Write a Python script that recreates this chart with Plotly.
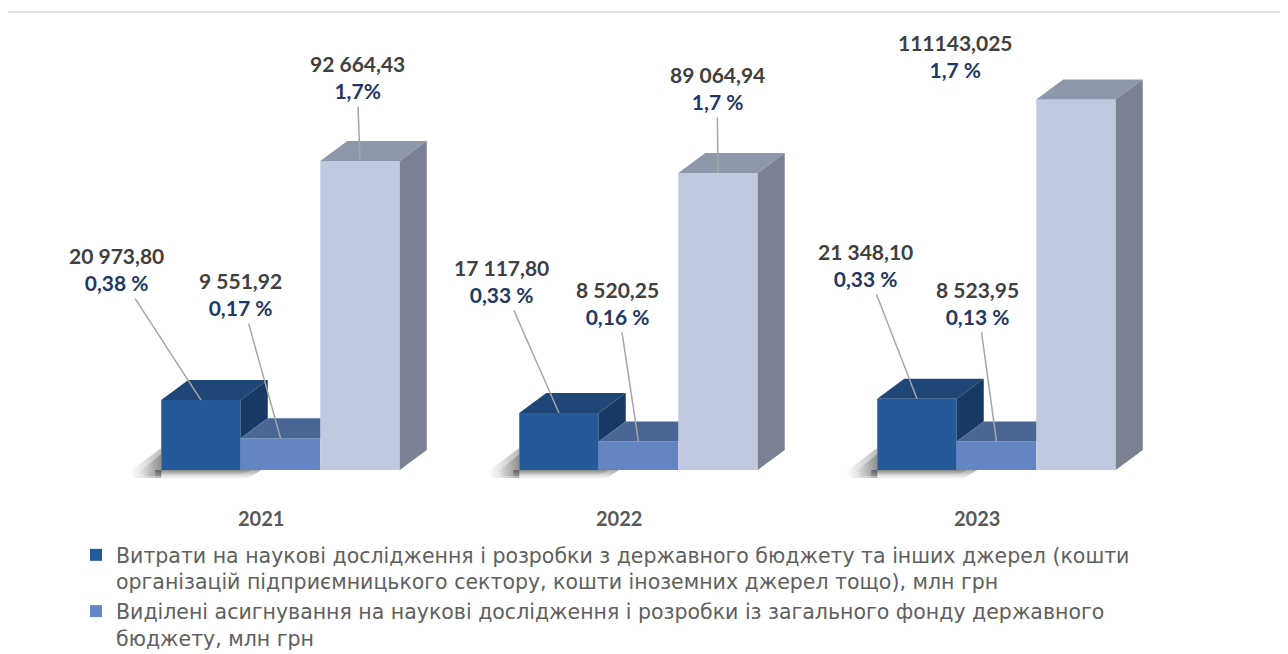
import plotly.graph_objects as go

# ---------------- data ----------------
years = ["2021", "2022", "2023"]
rd_total = [20973.80, 17117.80, 21348.10]          # dark blue
rd_budget = [9551.92, 8520.25, 8523.95]            # medium blue
third = [92664.43, 89064.94, 111143.025]           # light lavender
rd_total_lbl = ["20 973,80", "17 117,80", "21 348,10"]
rd_budget_lbl = ["9 551,92", "8 520,25", "8 523,95"]
third_lbl = ["92 664,43", "89 064,94", "111143,025"]
rd_total_pct = ["0,38 %", "0,33 %", "0,33 %"]
rd_budget_pct = ["0,17 %", "0,16 %", "0,13 %"]
third_pct = ["1,7%", "1,7 %", "1,7 %"]

name_total = ("Витрати на наукові дослідження і розробки з державного бюджету та інших джерел (кошти"
              "<br>організацій підприємницького сектору, кошти іноземних джерел тощо), млн грн")
name_budget = ("Виділені асигнування на наукові дослідження і розробки із загального фонду державного"
               "<br>бюджету, млн грн")
name_third = "1,7 % ВВП"

# ---------------- geometry (page pixels) ----------------
FIG_W, FIG_H = 1288, 654
BODY = 8                                   # default page margin around the figure
PL, PR, PT, PB = 40, 1248, 20, 490         # plot area in page px
PX_PER_GROUP = 358.0
Y_PER_PX = 300.0
BASE_PX = 470.0
GROUP0_PX = 280.5

plot_w = PR - PL
plot_h = PB - PT
x0r = -(GROUP0_PX - PL) / PX_PER_GROUP
x_range = [x0r, x0r + plot_w / PX_PER_GROUP]
y_min = -(PB - BASE_PX) * Y_PER_PX
y_range = [y_min, y_min + plot_h * Y_PER_PX]


def paper_x(px):
    return (px - PL) / plot_w


def paper_y(py):
    return (PB - py) / plot_h


BW = 79.5 / PX_PER_GROUP
DX = 27.0 / PX_PER_GROUP
DY = 20.0 * Y_PER_PX

C_DARK = ["#245A99", "#1E4777", "#173A64"]     # front, top, side
C_MID = ["#6385C4", "#4A6694", "#3E5A86"]
C_LIGHT = ["#BFC9E0", "#8E98AB", "#7A8193"]
VAL_COLOR = "#404040"
PCT_COLOR = "#1F3864"

groups = list(range(len(years)))
fig = go.Figure()


def poly_xy(polys):
    xs, ys = [], []
    for p in polys:
        for (a, b) in p:
            xs.append(a)
            ys.append(b)
        xs.append(p[0][0]); ys.append(p[0][1])
        xs.append(None); ys.append(None)
    return xs, ys


def poly_trace(polys, color):
    xs, ys = poly_xy(polys)
    return go.Scatter(x=xs, y=ys, mode="lines", fill="toself", fillcolor=color,
                      line=dict(width=0, color=color),
                      hoverinfo="skip", showlegend=False)


# ---- front faces ----
fig.add_trace(go.Bar(x=[g - BW for g in groups], y=rd_total, width=BW, name=name_total,
                     marker=dict(color=C_DARK[0], line=dict(width=0)), hoverinfo="skip"))
fig.add_trace(go.Bar(x=[g for g in groups], y=rd_budget, width=BW, name=name_budget,
                     marker=dict(color=C_MID[0], line=dict(width=0)), hoverinfo="skip"))
fig.add_trace(go.Bar(x=[g + BW for g in groups], y=third, width=BW, name=name_third,
                     marker=dict(color=C_LIGHT[0], line=dict(width=0)), hoverinfo="skip",
                     showlegend=False))


# ---- soft floor shadow to the lower left of each group ----
def sx(g, dpx):
    return g - 1.5 * BW + dpx / PX_PER_GROUP


def sy(dpx):
    return -dpx * Y_PER_PX


def grad_poly(pts, kind, alpha):
    xs, ys = poly_xy([pts])
    return go.Scatter(x=xs, y=ys, mode="lines", fill="toself", line=dict(width=0),
                      fillgradient=dict(type=kind,
                                        colorscale=[[0, "rgba(80,80,80,0)"],
                                                    [1, f"rgba(60,60,60,{alpha})"]]),
                      hoverinfo="skip", showlegend=False)


for g in groups:
    fig.add_trace(grad_poly([(sx(g, 0), sy(-22)), (sx(g, -32), sy(2)), (sx(g, -26), sy(8)),
                             (sx(g, 0), sy(8))], "horizontal", 0.35))
    fig.add_trace(grad_poly([(sx(g, 0), sy(-16)), (sx(g, -22), sy(2)), (sx(g, -16), sy(6)),
                             (sx(g, 0), sy(6))], "horizontal", 0.35))
    fig.add_trace(grad_poly([(sx(g, -6), sy(0)), (sx(g, 100), sy(0)), (sx(g, 86), sy(9)),
                             (sx(g, -6), sy(9))], "vertical", 0.45))
    fig.add_trace(grad_poly([(sx(g, -6), sy(0)), (sx(g, 90), sy(0)), (sx(g, 80), sy(5)),
                             (sx(g, -6), sy(5))], "vertical", 0.3))

# ---- 3D top and side faces ----
dark_top, dark_side, mid_top, light_top, light_side = [], [], [], [], []
for g, vd, vm, vl in zip(groups, rd_total, rd_budget, third):
    xa, xb = g - 1.5 * BW, g - 0.5 * BW
    dark_top.append([(xa, vd), (xb, vd), (xb + DX, vd + DY), (xa + DX, vd + DY)])
    dark_side.append([(xb, vm), (xb, vd), (xb + DX, vd + DY), (xb + DX, vm + DY)])
    xc = g + 0.5 * BW
    mid_top.append([(xb, vm), (xc, vm), (xc, vm + DY), (xb + DX, vm + DY)])
    xd = g + 1.5 * BW
    light_top.append([(xc, vl), (xd, vl), (xd + DX, vl + DY), (xc + DX, vl + DY)])
    light_side.append([(xd, 0), (xd, vl), (xd + DX, vl + DY), (xd + DX, DY)])

fig.add_trace(poly_trace(dark_top, C_DARK[1]))
fig.add_trace(poly_trace(dark_side, C_DARK[2]))
fig.add_trace(poly_trace(mid_top, C_MID[1]))
fig.add_trace(poly_trace(light_top, C_LIGHT[1]))
fig.add_trace(poly_trace(light_side, C_LIGHT[2]))

# ---- data labels with leader lines (label offsets in px) ----
off_total = [(-85, -131), (-58, -132), (-52, -134)]
off_budget = [(-40, -144), (-21, -139), (-19, -139)]
off_third = [(-3, -84), (-1, -85), (-121, -44)]
leader_third = [True, True, False]


def lbl(val, pct):
    return (f"<span style='color:{VAL_COLOR}'>{val}</span><br>"
            f"<span style='color:{PCT_COLOR}'>{pct}</span>")


annotations = []
for g in groups:
    for xc, v, vt, pt, (ax, ay), show in [
        (g - BW, rd_total[g], rd_total_lbl[g], rd_total_pct[g], off_total[g], True),
        (g, rd_budget[g], rd_budget_lbl[g], rd_budget_pct[g], off_budget[g], True),
        (g + BW, third[g], third_lbl[g], third_pct[g], off_third[g], leader_third[g]),
    ]:
        annotations.append(dict(
            x=xc, y=v, xref="x", yref="y", text=lbl(vt, pt), showarrow=True,
            ax=ax, ay=ay, axref="pixel", ayref="pixel", arrowhead=0, standoff=0,
            arrowwidth=1.5, arrowcolor="#A6A6A6" if show else "rgba(0,0,0,0)",
            font=dict(family="Lato", size=21, weight="bold"), align="center",
            borderpad=3))

for g, yr in zip(groups, years):
    annotations.append(dict(
        x=g - 20 / PX_PER_GROUP, y=paper_y(518), xref="x", yref="paper",
        text=yr, showarrow=False,
        font=dict(family="Lato", size=20, weight="bold", color="#595959"),
        xanchor="center", yanchor="middle"))

# chart frame (light grey top/left border)
shapes = [
    dict(type="line", xref="paper", yref="paper",
         x0=paper_x(6), x1=paper_x(FIG_W + 20), y0=paper_y(12), y1=paper_y(12),
         line=dict(color="#D9D9D9", width=1.5)),
    dict(type="line", xref="paper", yref="paper",
         x0=paper_x(6), x1=paper_x(6), y0=paper_y(12), y1=paper_y(FIG_H + 20),
         line=dict(color="#D9D9D9", width=1.5)),
]

fig.update_layout(
    width=FIG_W, height=FIG_H,
    margin=dict(l=PL - BODY, r=FIG_W - (PR - BODY), t=PT - BODY, b=FIG_H - (PB - BODY),
                autoexpand=False),
    paper_bgcolor="white", plot_bgcolor="white",
    barmode="overlay",
    xaxis=dict(range=x_range, visible=False, fixedrange=True),
    yaxis=dict(range=y_range, visible=False, fixedrange=True),
    showlegend=True,
    legend=dict(x=paper_x(76), y=paper_y(535),
                xanchor="left", yanchor="top", valign="top",
                font=dict(family="DejaVu Sans", size=20.5, color="#606060"),
                bgcolor="rgba(0,0,0,0)", borderwidth=0),
    annotations=annotations,
    shapes=shapes,
    hovermode=False,
)

fig.write_html("out.html")
